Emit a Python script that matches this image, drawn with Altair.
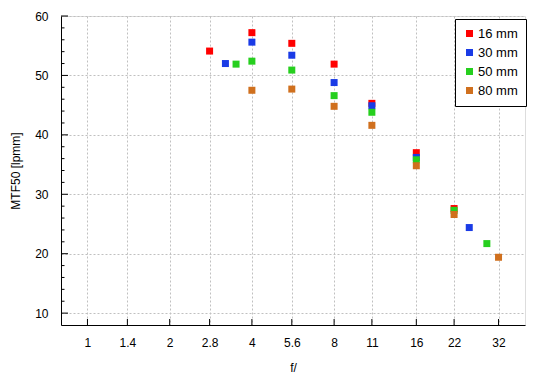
import altair as alt
import pandas as pd

# ---- data ----
series_names = ["16 mm", "30 mm", "50 mm", "80 mm"]
series_colors = ["#ff0000", "#1a3be6", "#26cf1e", "#d0701e"]

apertures_16 = [2.8, 4, 5.6, 8, 11, 16, 22]
mtf_16 = [54.1, 57.2, 55.4, 51.9, 45.3, 37.0, 27.6]

apertures_30 = [3.2, 4, 5.6, 8, 11, 16, 25]
mtf_30 = [52.0, 55.6, 53.4, 48.8, 44.9, 36.2, 24.4]

apertures_50 = [3.5, 4, 5.6, 8, 11, 16, 22, 29]
mtf_50 = [51.9, 52.4, 50.9, 46.6, 43.8, 35.8, 27.3, 21.7]

apertures_80 = [4, 5.6, 8, 11, 16, 22, 32]
mtf_80 = [47.5, 47.7, 44.8, 41.6, 34.8, 26.6, 19.4]

x_ticks = [1, 1.4, 2, 2.8, 4, 5.6, 8, 11, 16, 22, 32]
y_major = [10, 20, 30, 40, 50, 60]
y_minor = [12, 14, 16, 18, 22, 24, 26, 28, 32, 34, 36, 38,
           42, 44, 46, 48, 52, 54, 56, 58]

rows = []
for name, aps, vals in zip(series_names,
                           [apertures_16, apertures_30, apertures_50, apertures_80],
                           [mtf_16, mtf_30, mtf_50, mtf_80]):
    for a, v in zip(aps, vals):
        rows.append({"series": name, "f": a, "mtf": v, "order": len(rows)})
df = pd.DataFrame(rows)

W, H = 464, 309
FONT = "Liberation Sans"

xscale = alt.Scale(type="log", domain=[0.8, 40], nice=False)
yscale = alt.Scale(domain=[8, 60], nice=False, zero=False)

points = alt.Chart(df).mark_square(size=49, opacity=1, filled=True).encode(
    x=alt.X("f:Q", scale=xscale,
            axis=alt.Axis(title="f/", values=x_ticks, format="~g", ticks=False,
                          labelPadding=12, titlePadding=14, grid=True,
                          gridColor="#c0c0c0", gridDash=[2, 2], domainColor="black",
                          labelFontSize=12, titleFontSize=12, labelFont=FONT,
                          titleFont=FONT, titleFontWeight="normal",
                          labelColor="black", titleColor="black", labelFlush=False)),
    y=alt.Y("mtf:Q", scale=yscale,
            axis=alt.Axis(title="MTF50 [lpmm]", values=y_major, ticks=False,
                          labelPadding=13, titlePadding=12, grid=True,
                          gridColor="#c0c0c0", gridDash=[2, 2], domainColor="black",
                          labelFontSize=12, titleFontSize=12, labelFont=FONT,
                          titleFont=FONT, titleFontWeight="normal",
                          labelColor="black", titleColor="black", labelFlush=False)),
    color=alt.Color("series:N",
                    scale=alt.Scale(domain=series_names, range=series_colors),
                    legend=alt.Legend(title=None, orient="none", legendX=394, legendY=3,
                                      strokeColor="black", fillColor="white", padding=8,
                                      rowPadding=5, labelFontSize=13, labelFont=FONT,
                                      labelColor="black", symbolType="square",
                                      symbolSize=49, symbolStrokeWidth=0,
                                      symbolOpacity=1, labelOffset=2)),
    order="order:Q",
)

ymaj_df = pd.DataFrame({"v": y_major})
ymin_df = pd.DataFrame({"v": y_minor})
xt_df = pd.DataFrame({"f": x_ticks})

ymaj_ticks = alt.Chart(ymaj_df).mark_rule(color="black", strokeWidth=1).encode(
    y=alt.Y("v:Q", scale=yscale), x=alt.value(0), x2=alt.value(7))
ymin_ticks = alt.Chart(ymin_df).mark_rule(color="black", strokeWidth=1).encode(
    y=alt.Y("v:Q", scale=yscale), x=alt.value(0), x2=alt.value(3.5))
x_ticks_marks = alt.Chart(xt_df).mark_rule(color="black", strokeWidth=1).encode(
    x=alt.X("f:Q", scale=xscale), y=alt.value(H), y2=alt.value(H - 6))

chart = alt.layer(ymaj_ticks, ymin_ticks, x_ticks_marks, points).properties(
    width=W, height=H,
    autosize=alt.AutoSizeParams(type="none"),
    padding={"left": 53, "top": 8, "right": 10, "bottom": 50},
).configure_view(stroke="black", strokeWidth=1).configure(background="white")

chart.save("out.html", embed_options={"renderer": "svg", "actions": False})
